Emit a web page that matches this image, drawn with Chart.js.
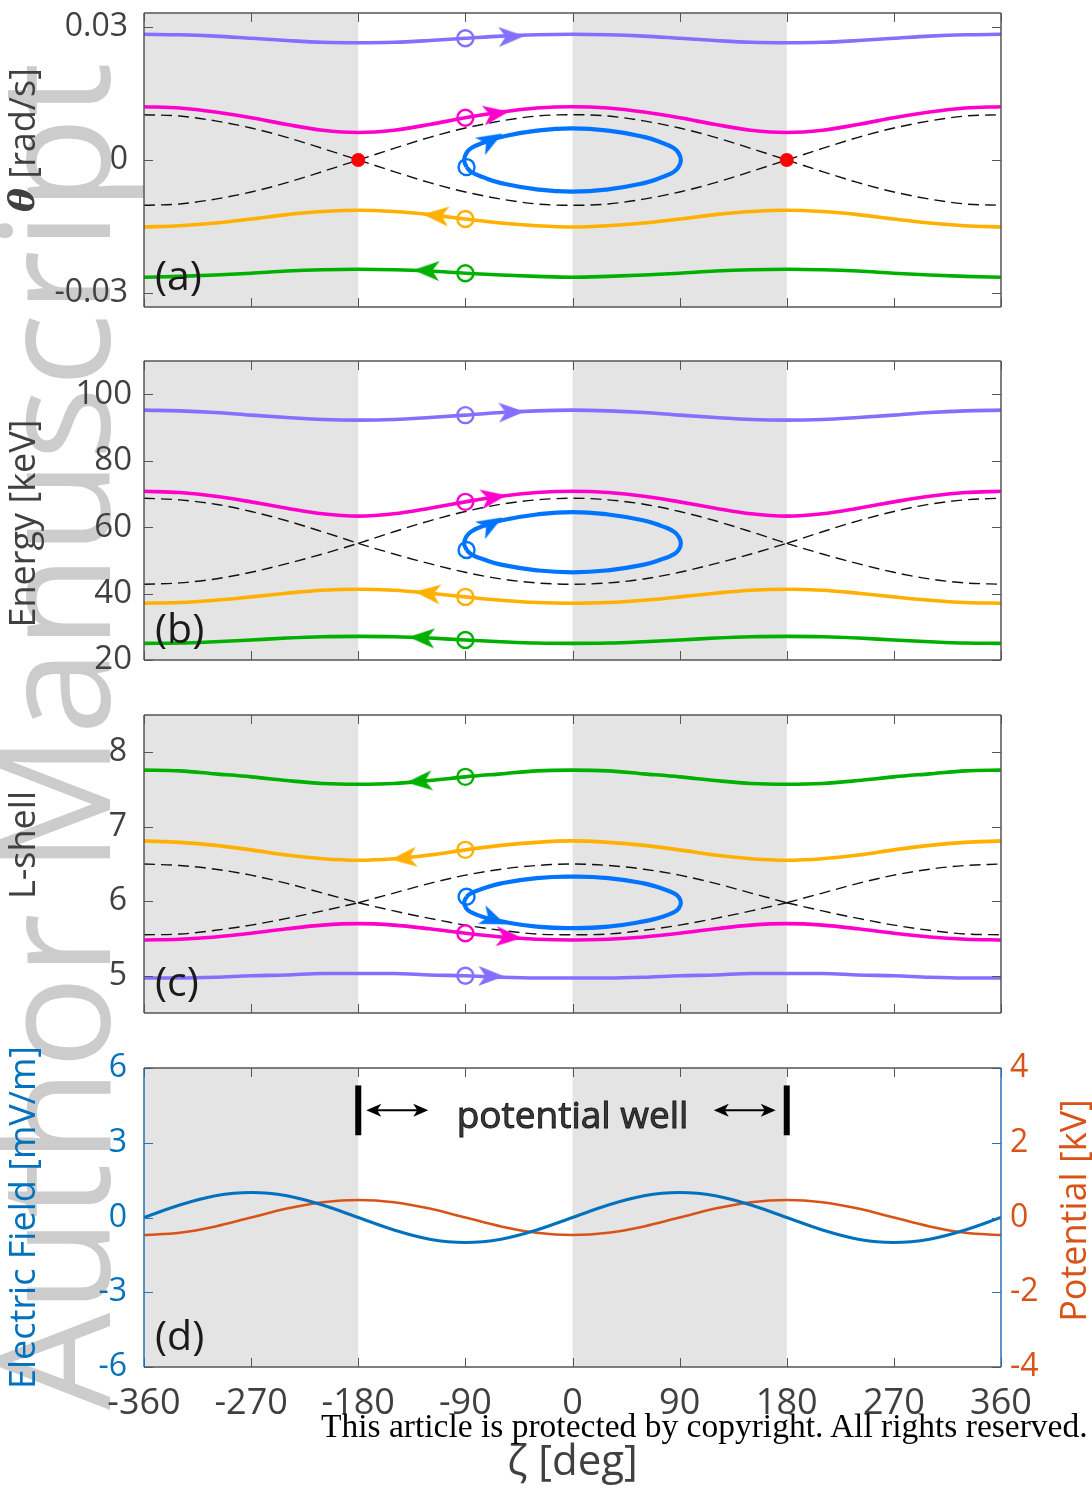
<!DOCTYPE html>
<html>
<head>
<meta charset="utf-8">
<script src="https://cdn.jsdelivr.net/npm/chart.js@4.4.1/dist/chart.umd.min.js"></script>
<style>
  html, body { margin: 0; padding: 0; background: #fff; }
  body { width: 1092px; height: 1491px; position: relative; overflow: hidden; font-family: "Open Sans", sans-serif; }
  canvas { position: absolute; left: 0; }
  #wm { position: absolute; left: 0; top: 0; transform-origin: 0 0; transform: translate(-27px, 1410px) rotate(-90deg);
        font-size: 154px; line-height: 1; color: #cccccc; white-space: nowrap; }
  #copy { position: absolute; left: 321px; top: 1407px; font-family: "Liberation Serif", serif; font-size: 33.5px; color: #000; white-space: nowrap; }
</style>
</head>
<body>
<div id="wm">Author Manuscript</div>
<canvas id="panelA" width="1092" height="330" style="top:0px"></canvas>
<canvas id="panelB" width="1092" height="350" style="top:330px"></canvas>
<canvas id="panelC" width="1092" height="350" style="top:680px"></canvas>
<canvas id="panelD" width="1092" height="461" style="top:1030px"></canvas>
<div id="copy">This article is protected by copyright. All rights reserved.</div>
<script>
// wave phase, deg
var zeta = [-360, -330, -300, -270, -240, -210, -180, -150, -120, -90, -60, -30, 0, 30, 60, 90, 120, 150, 180, 210, 240, 270, 300, 330, 360];
var xTicks = [-360, -270, -180, -90, 0, 90, 180, 270, 360];
var shadeBands = [[-360, -180], [0, 180]];

// (a) theta dot [rad/s]
var aTicks = [-0.03, 0, 0.03];
var aPurple = [0.0283, 0.0282, 0.0279, 0.0274, 0.0269, 0.0265, 0.0264, 0.0265, 0.0269, 0.0274, 0.0279, 0.0282, 0.0283, 0.0282, 0.0279, 0.0274, 0.0269, 0.0265, 0.0264, 0.0265, 0.0269, 0.0274, 0.0279, 0.0282, 0.0283];
var aMagenta = [0.0120, 0.0117, 0.0108, 0.0095, 0.0080, 0.0067, 0.0062, 0.0067, 0.0080, 0.0095, 0.0108, 0.0117, 0.0120, 0.0117, 0.0108, 0.0095, 0.0080, 0.0067, 0.0062, 0.0067, 0.0080, 0.0095, 0.0108, 0.0117, 0.0120];
var aSepUpper = [0.0102, 0.0099, 0.0088, 0.0072, 0.0051, 0.0026, 0, 0.0026, 0.0051, 0.0072, 0.0088, 0.0099, 0.0102, 0.0099, 0.0088, 0.0072, 0.0051, 0.0026, 0, 0.0026, 0.0051, 0.0072, 0.0088, 0.0099, 0.0102];
var aSepLower = [-0.0102, -0.0099, -0.0088, -0.0072, -0.0051, -0.0026, 0, -0.0026, -0.0051, -0.0072, -0.0088, -0.0099, -0.0102, -0.0099, -0.0088, -0.0072, -0.0051, -0.0026, 0, -0.0026, -0.0051, -0.0072, -0.0088, -0.0099, -0.0102];
var aOrange = [-0.0151, -0.0148, -0.0142, -0.0133, -0.0123, -0.0116, -0.0113, -0.0116, -0.0123, -0.0133, -0.0142, -0.0148, -0.0151, -0.0148, -0.0142, -0.0133, -0.0123, -0.0116, -0.0113, -0.0116, -0.0123, -0.0133, -0.0142, -0.0148, -0.0151];
var aGreen = [-0.0264, -0.0262, -0.0259, -0.0255, -0.0250, -0.0247, -0.0246, -0.0247, -0.0250, -0.0255, -0.0259, -0.0262, -0.0264, -0.0262, -0.0259, -0.0255, -0.0250, -0.0247, -0.0246, -0.0247, -0.0250, -0.0255, -0.0259, -0.0262, -0.0264];
var loopZeta = [-89, -91, -89, -85, -75, -60, -30, 0, 30, 60, 75, 85, 89, 91, 89, 85, 75, 60, 30, 0, -30, -60, -75, -85, -89];
var aLoop = [-0.0016, 0, 0.0016, 0.0027, 0.0039, 0.0052, 0.0066, 0.0071, 0.0066, 0.0052, 0.0039, 0.0027, 0.0016, 0, -0.0016, -0.0027, -0.0039, -0.0052, -0.0066, -0.0071, -0.0066, -0.0052, -0.0039, -0.0027, -0.0016];
var aArrowZeta = [-52, -65, -69, -114, -122];
var aArrowVal = [0.0278, 0.0104, 0.0044, -0.0125, -0.0249];
var aArrowAngle = [-2, -9, -30, 185, 182];
var aXPointZeta = [-180, 180];
var aXPointVal = [0, 0];

// (b) energy [keV]
var bTicks = [20, 40, 60, 80, 100];
var bPurple = [95.2, 95.0, 94.5, 93.7, 93.0, 92.4, 92.2, 92.4, 93.0, 93.7, 94.5, 95.0, 95.2, 95.0, 94.5, 93.7, 93.0, 92.4, 92.2, 92.4, 93.0, 93.7, 94.5, 95.0, 95.2];
var bMagenta = [70.8, 70.4, 69.3, 67.6, 65.7, 64.0, 63.3, 64.0, 65.7, 67.6, 69.3, 70.4, 70.8, 70.4, 69.3, 67.6, 65.7, 64.0, 63.3, 64.0, 65.7, 67.6, 69.3, 70.4, 70.8];
var bSepUpper = [68.7, 68.2, 66.9, 64.7, 61.9, 58.6, 55.1, 58.6, 61.9, 64.7, 66.9, 68.2, 68.7, 68.2, 66.9, 64.7, 61.9, 58.6, 55.1, 58.6, 61.9, 64.7, 66.9, 68.2, 68.7];
var bSepLower = [42.8, 43.2, 44.4, 46.4, 49.0, 51.9, 55.1, 51.9, 49.0, 46.4, 44.4, 43.2, 42.8, 43.2, 44.4, 46.4, 49.0, 51.9, 55.1, 51.9, 49.0, 46.4, 44.4, 43.2, 42.8];
var bOrange = [37.1, 37.3, 38.0, 39.0, 40.1, 41.0, 41.3, 41.0, 40.1, 39.0, 38.0, 37.3, 37.1, 37.3, 38.0, 39.0, 40.1, 41.0, 41.3, 41.0, 40.1, 39.0, 38.0, 37.3, 37.1];
var bGreen = [25.0, 25.1, 25.5, 26.0, 26.6, 27.0, 27.1, 27.0, 26.6, 26.0, 25.5, 25.1, 25.0, 25.1, 25.5, 26.0, 26.6, 27.0, 27.1, 27.0, 26.6, 26.0, 25.5, 25.1, 25.0];
var bLoop = [53.1, 55.1, 57.2, 58.7, 60.3, 62.0, 63.8, 64.5, 63.8, 62.0, 60.3, 58.7, 57.2, 55.1, 53.1, 51.8, 50.3, 48.7, 47.0, 46.4, 47.0, 48.7, 50.3, 51.8, 53.1];
var bArrowZeta = [-52, -67, -69, -121, -126];
var bArrowVal = [94.6, 68.9, 60.8, 40.1, 26.7];
var bArrowAngle = [-2, -9, -30, 186, 183];

// (c) L-shell
var cTicks = [5, 6, 7, 8];
var cGreen = [7.76, 7.75, 7.71, 7.67, 7.62, 7.58, 7.57, 7.58, 7.62, 7.67, 7.71, 7.75, 7.76, 7.75, 7.71, 7.67, 7.62, 7.58, 7.57, 7.58, 7.62, 7.67, 7.71, 7.75, 7.76];
var cOrange = [6.81, 6.79, 6.75, 6.69, 6.62, 6.57, 6.55, 6.57, 6.62, 6.69, 6.75, 6.79, 6.81, 6.79, 6.75, 6.69, 6.62, 6.57, 6.55, 6.57, 6.62, 6.69, 6.75, 6.79, 6.81];
var cSepUpper = [6.50, 6.48, 6.43, 6.35, 6.24, 6.11, 5.98, 6.11, 6.24, 6.35, 6.43, 6.48, 6.50, 6.48, 6.43, 6.35, 6.24, 6.11, 5.98, 6.11, 6.24, 6.35, 6.43, 6.48, 6.50];
var cSepLower = [5.55, 5.56, 5.61, 5.68, 5.77, 5.87, 5.98, 5.87, 5.77, 5.68, 5.61, 5.56, 5.55, 5.56, 5.61, 5.68, 5.77, 5.87, 5.98, 5.87, 5.77, 5.68, 5.61, 5.56, 5.55];
var cMagenta = [5.48, 5.49, 5.52, 5.57, 5.63, 5.68, 5.70, 5.68, 5.63, 5.57, 5.52, 5.49, 5.48, 5.49, 5.52, 5.57, 5.63, 5.68, 5.70, 5.68, 5.63, 5.57, 5.52, 5.49, 5.48];
var cPurple = [4.97, 4.97, 4.98, 5.00, 5.01, 5.03, 5.03, 5.03, 5.01, 5.00, 4.98, 4.97, 4.97, 4.97, 4.98, 5.00, 5.01, 5.03, 5.03, 5.03, 5.01, 5.00, 4.98, 4.97, 4.97];
var cLoop = [6.06, 5.98, 5.90, 5.85, 5.79, 5.73, 5.66, 5.64, 5.66, 5.73, 5.79, 5.85, 5.90, 5.98, 6.06, 6.11, 6.17, 6.24, 6.31, 6.33, 6.31, 6.24, 6.17, 6.11, 6.06];
var cArrowZeta = [-128, -141, -67, -54, -69];
var cArrowVal = [7.61, 6.58, 5.76, 5.52, 4.995];
var cArrowAngle = [175, 174, 22, 4, 1];

// (d) wave field
var dFieldTicks = [-6, -3, 0, 3, 6];
var dPotTicks = [-4, -2, 0, 2, 4];
var dField = [0, 0.5, 0.87, 1, 0.87, 0.5, 0, -0.5, -0.87, -1, -0.87, -0.5, 0, 0.5, 0.87, 1, 0.87, 0.5, 0, -0.5, -0.87, -1, -0.87, -0.5, 0];
var dPotential = [-0.47, -0.41, -0.24, 0, 0.24, 0.41, 0.47, 0.41, 0.24, 0, -0.24, -0.41, -0.47, -0.41, -0.24, 0, 0.24, 0.41, 0.47, 0.41, 0.24, 0, -0.24, -0.41, -0.47];

var PURPLE = '#8470ff', MAGENTA = '#ff00cc', BLUE = '#0073ff', ORANGE = '#ffb000', GREEN = '#00b000';
var EBLUE = '#0072bd', PORANGE = '#d95319', INK = '#404040';
var SANS = '"Open Sans", sans-serif';

Chart.defaults.font.family = SANS;
Chart.defaults.color = INK;

function pts(xs, ys) {
  return xs.map(function (x, i) { return { x: x, y: ys[i] }; });
}

function traj(ys, color) {
  return { data: pts(zeta, ys), showLine: true, borderColor: color, borderWidth: 3.6,
           pointRadius: 0, cubicInterpolationMode: 'monotone', order: 4 };
}

// separatrix branches, broken at the X points so they cross sharply
function separatrix(ys) {
  var p = [];
  zeta.forEach(function (z, i) {
    p.push({ x: z, y: ys[i] });
    if (z === -180 || z === 180) {
      p.push({ x: z, y: null });
      p.push({ x: z, y: ys[i] });
    }
  });
  return { data: p, showLine: true, borderColor: '#111', borderWidth: 1.4, borderDash: [11, 6],
           pointRadius: 0, cubicInterpolationMode: 'monotone', spanGaps: false, order: 5 };
}

function loop(ys) {
  return { data: pts(loopZeta, ys), showLine: true, borderColor: BLUE, borderWidth: 4.2,
           pointRadius: 0, tension: 0.5, order: 3 };
}

function rings(points, colors) {
  return { data: points, showLine: false, pointStyle: 'circle', pointRadius: 8, pointBorderWidth: 2.4,
           pointBorderColor: colors, pointBackgroundColor: 'rgba(0,0,0,0)', order: 2 };
}

function arrowHead(color) {
  var c = document.createElement('canvas');
  c.width = 34; c.height = 34;
  var g = c.getContext('2d');
  g.fillStyle = color;
  g.beginPath();
  g.moveTo(31, 17);
  g.lineTo(5, 7);
  g.lineTo(12, 17);
  g.lineTo(5, 27);
  g.closePath();
  g.fill();
  return c;
}

function arrows(zs, ys, angles, colors) {
  return { data: pts(zs, ys), showLine: false, pointStyle: colors.map(arrowHead), pointRotation: angles,
           pointRadius: 12, order: 1 };
}

function yAxis(min, max, ticks, size, pad, color) {
  return {
    type: 'linear', min: min, max: max,
    afterBuildTicks: function (s) { s.ticks = ticks.map(function (v) { return { value: v }; }); },
    afterFit: function (s) { s.width = 144; s.paddingTop = 0; s.paddingBottom = 0; },
    grid: { display: false, drawTicks: false },
    border: { display: false },
    ticks: { padding: pad, color: color, font: { size: size }, callback: function (v) { return String(v); } }
  };
}

// rotated axis title made of runs with their own fonts, read bottom to top
function sideTitle(ctx, parts, x, y, color) {
  ctx.save();
  ctx.translate(x, y);
  ctx.rotate(-Math.PI / 2);
  ctx.fillStyle = color;
  ctx.textAlign = 'left';
  ctx.textBaseline = 'middle';
  var total = 0;
  parts.forEach(function (p) { ctx.font = p.font; total += ctx.measureText(p.text).width; });
  var cx = -total / 2;
  parts.forEach(function (p) {
    ctx.font = p.font;
    ctx.fillText(p.text, cx, 0);
    cx += ctx.measureText(p.text).width;
  });
  ctx.restore();
}

function panelPlugin(opts) {
  return {
    id: 'panelFrame',
    beforeDatasetsDraw: function (chart) {
      var ctx = chart.ctx, a = chart.chartArea, sx = chart.scales.x;
      ctx.save();
      ctx.fillStyle = '#e4e4e4';
      shadeBands.forEach(function (b) {
        var x0 = sx.getPixelForValue(b[0]), x1 = sx.getPixelForValue(b[1]);
        ctx.fillRect(x0, a.top, x1 - x0, a.bottom - a.top);
      });
      ctx.restore();
    },
    afterDatasetsDraw: function (chart) {
      var ctx = chart.ctx, a = chart.chartArea, sx = chart.scales.x, sy = chart.scales.y;
      var side = opts.sideColor || '#555';
      ctx.save();
      ctx.lineWidth = 1;
      ctx.strokeStyle = '#555';
      ctx.beginPath();
      xTicks.forEach(function (v) {
        var px = Math.round(sx.getPixelForValue(v)) + 0.5;
        ctx.moveTo(px, a.top); ctx.lineTo(px, a.top + 9);
        ctx.moveTo(px, a.bottom); ctx.lineTo(px, a.bottom - 9);
      });
      ctx.stroke();
      ctx.strokeStyle = side;
      ctx.beginPath();
      opts.yTicks.forEach(function (v) {
        var py = Math.round(sy.getPixelForValue(v)) + 0.5;
        ctx.moveTo(a.left, py); ctx.lineTo(a.left + 9, py);
        ctx.moveTo(a.right, py); ctx.lineTo(a.right - 9, py);
      });
      ctx.stroke();
      ctx.lineWidth = 1.5;
      ctx.strokeStyle = '#555';
      ctx.beginPath();
      ctx.moveTo(a.left, a.top); ctx.lineTo(a.right, a.top);
      ctx.moveTo(a.left, a.bottom); ctx.lineTo(a.right, a.bottom);
      ctx.stroke();
      ctx.strokeStyle = side;
      ctx.beginPath();
      ctx.moveTo(a.left, a.top); ctx.lineTo(a.left, a.bottom);
      ctx.moveTo(a.right, a.top); ctx.lineTo(a.right, a.bottom);
      ctx.stroke();

      ctx.fillStyle = '#1a1a1a';
      ctx.font = '41px ' + SANS;
      ctx.textAlign = 'left';
      ctx.textBaseline = 'alphabetic';
      ctx.fillText(opts.letter, a.left + 11, a.bottom - 17);

      sideTitle(ctx, opts.title, 25, (a.top + a.bottom) / 2 + opts.titleShift, opts.titleColor || INK);
      if (opts.extra) opts.extra(chart);
      ctx.restore();
    }
  };
}

function doubleArrow(ctx, x0, x1, y) {
  ctx.lineWidth = 2;
  ctx.beginPath();
  ctx.moveTo(x0 + 6, y); ctx.lineTo(x1 - 6, y);
  ctx.stroke();
  [[x0, 1], [x1, -1]].forEach(function (e) {
    var x = e[0], d = e[1];
    ctx.beginPath();
    ctx.moveTo(x, y);
    ctx.lineTo(x + d * 15, y - 6.5);
    ctx.lineTo(x + d * 11, y);
    ctx.lineTo(x + d * 15, y + 6.5);
    ctx.closePath();
    ctx.fill();
  });
}

function wellNote(chart) {
  var ctx = chart.ctx, a = chart.chartArea, sx = chart.scales.x, sy = chart.scales.y;
  var xl = sx.getPixelForValue(-180), xr = sx.getPixelForValue(180), xm = sx.getPixelForValue(0);
  var yTop = sy.getPixelForValue(5.3), yBot = sy.getPixelForValue(3.3), ym = sy.getPixelForValue(4.3);
  ctx.fillStyle = '#000';
  ctx.strokeStyle = '#000';
  ctx.fillRect(xl - 3, yTop, 6, yBot - yTop);
  ctx.fillRect(xr - 3, yTop, 6, yBot - yTop);
  doubleArrow(ctx, xl + 8, xl + 70, ym);
  doubleArrow(ctx, xr - 73, xr - 11, ym);
  ctx.font = '37px ' + SANS;
  ctx.textAlign = 'center';
  ctx.textBaseline = 'alphabetic';
  ctx.fillStyle = '#3a3a3a';
  ctx.lineWidth = 0.9;
  ctx.strokeStyle = '#111';
  ctx.fillText('potential well', xm, sy.getPixelForValue(3.6));
  ctx.strokeText('potential well', xm, sy.getPixelForValue(3.6));

  sideTitle(ctx, [{ text: 'Potential [kV]', font: '36px ' + SANS }], a.right + 75, (a.top + a.bottom) / 2 - 7, PORANGE);
}

function makePanel(id, cfg) {
  return new Chart(document.getElementById(id), {
    type: 'scatter',
    data: { datasets: cfg.datasets },
    options: {
      responsive: false, animation: false, devicePixelRatio: 1, events: [],
      layout: { padding: cfg.padding },
      plugins: { legend: { display: false }, tooltip: { enabled: false } },
      scales: cfg.scales
    },
    plugins: [panelPlugin(cfg)]
  });
}

var hiddenX = { type: 'linear', min: -360, max: 360, display: false };

makePanel('panelA', {
  letter: '(a)', yTicks: aTicks, titleShift: -20,
  title: [{ text: 'θ', font: 'italic bold 36px "DejaVu Serif", serif' }, { text: ' [rad/s]', font: '36px ' + SANS }],
  padding: { top: 8, right: 91, bottom: 23, left: 0 },
  scales: { x: hiddenX, y: yAxis(-0.0331, 0.0331, aTicks, 32, 16, INK) },
  datasets: [
    separatrix(aSepUpper), separatrix(aSepLower),
    traj(aPurple, PURPLE), traj(aMagenta, MAGENTA), traj(aOrange, ORANGE), traj(aGreen, GREEN),
    loop(aLoop),
    rings([{ x: -90, y: aPurple[9] }, { x: -90, y: aMagenta[9] }, { x: loopZeta[0], y: aLoop[0] },
           { x: -90, y: aOrange[9] }, { x: -90, y: aGreen[9] }], [PURPLE, MAGENTA, BLUE, ORANGE, GREEN]),
    arrows(aArrowZeta, aArrowVal, aArrowAngle, [PURPLE, MAGENTA, BLUE, ORANGE, GREEN]),
    { data: pts(aXPointZeta, aXPointVal), showLine: false, pointRadius: 7, pointBorderWidth: 0,
      pointBackgroundColor: '#ff0000', order: 0 }
  ]
});

makePanel('panelB', {
  letter: '(b)', yTicks: bTicks, titleShift: 13,
  title: [{ text: 'Energy [keV]', font: '36px ' + SANS }],
  padding: { top: 31, right: 91, bottom: 20, left: 0 },
  scales: { x: hiddenX, y: yAxis(20, 110, bTicks, 33, 12, INK) },
  datasets: [
    separatrix(bSepUpper), separatrix(bSepLower),
    traj(bPurple, PURPLE), traj(bMagenta, MAGENTA), traj(bOrange, ORANGE), traj(bGreen, GREEN),
    loop(bLoop),
    rings([{ x: -90, y: bPurple[9] }, { x: -90, y: bMagenta[9] }, { x: loopZeta[0], y: bLoop[0] },
           { x: -90, y: bOrange[9] }, { x: -90, y: bGreen[9] }], [PURPLE, MAGENTA, BLUE, ORANGE, GREEN]),
    arrows(bArrowZeta, bArrowVal, bArrowAngle, [PURPLE, MAGENTA, BLUE, ORANGE, GREEN])
  ]
});

makePanel('panelC', {
  letter: '(c)', yTicks: cTicks, titleShift: -19,
  title: [{ text: 'L-shell', font: '36px ' + SANS }],
  padding: { top: 35, right: 91, bottom: 17, left: 0 },
  scales: { x: hiddenX, y: yAxis(4.5, 8.5, cTicks, 32, 17, INK) },
  datasets: [
    separatrix(cSepUpper), separatrix(cSepLower),
    traj(cGreen, GREEN), traj(cOrange, ORANGE), traj(cMagenta, MAGENTA), traj(cPurple, PURPLE),
    loop(cLoop),
    rings([{ x: -90, y: cGreen[9] }, { x: -90, y: cOrange[9] }, { x: loopZeta[0], y: cLoop[0] },
           { x: -90, y: cMagenta[9] }, { x: -90, y: cPurple[9] }], [GREEN, ORANGE, BLUE, MAGENTA, PURPLE]),
    arrows(cArrowZeta, cArrowVal, cArrowAngle, [GREEN, ORANGE, BLUE, MAGENTA, PURPLE])
  ]
});

var dY2 = {
  type: 'linear', position: 'right', min: -4, max: 4,
  afterBuildTicks: function (s) { s.ticks = dPotTicks.map(function (v) { return { value: v }; }); },
  afterFit: function (s) { s.width = 91; s.paddingTop = 0; s.paddingBottom = 0; },
  grid: { display: false, drawTicks: false },
  border: { display: false },
  ticks: { padding: 9, color: PORANGE, font: { size: 32 }, callback: function (v) { return String(v); } }
};

makePanel('panelD', {
  letter: '(d)', yTicks: dFieldTicks, sideColor: '#2a72b0', extra: wellNote, titleShift: 0,
  title: [{ text: 'Electric Field [mV/m]', font: '36px ' + SANS }], titleColor: EBLUE,
  padding: { top: 38, right: 0, bottom: 0, left: 0 },
  scales: {
    x: {
      type: 'linear', min: -360, max: 360,
      afterBuildTicks: function (s) { s.ticks = xTicks.map(function (v) { return { value: v }; }); },
      afterFit: function (s) { s.height = 124; s.paddingLeft = 0; s.paddingRight = 0; },
      grid: { display: false, drawTicks: false },
      border: { display: false },
      ticks: { padding: 15, color: INK, font: { size: 36 }, autoSkip: false, maxRotation: 0,
               callback: function (v) { return String(v); } },
      title: { display: true, text: 'ζ [deg]', color: INK, font: { size: 42 }, padding: { top: 0, bottom: 3 } }
    },
    y: yAxis(-6, 6, dFieldTicks, 32, 17, EBLUE),
    y2: dY2
  },
  datasets: [
    { data: pts(zeta, dField), yAxisID: 'y', showLine: true, borderColor: EBLUE, borderWidth: 3,
      pointRadius: 0, cubicInterpolationMode: 'monotone', order: 1 },
    { data: pts(zeta, dPotential), yAxisID: 'y2', showLine: true, borderColor: PORANGE, borderWidth: 2.6,
      pointRadius: 0, cubicInterpolationMode: 'monotone', order: 2 }
  ]
});
</script>
</body>
</html>
